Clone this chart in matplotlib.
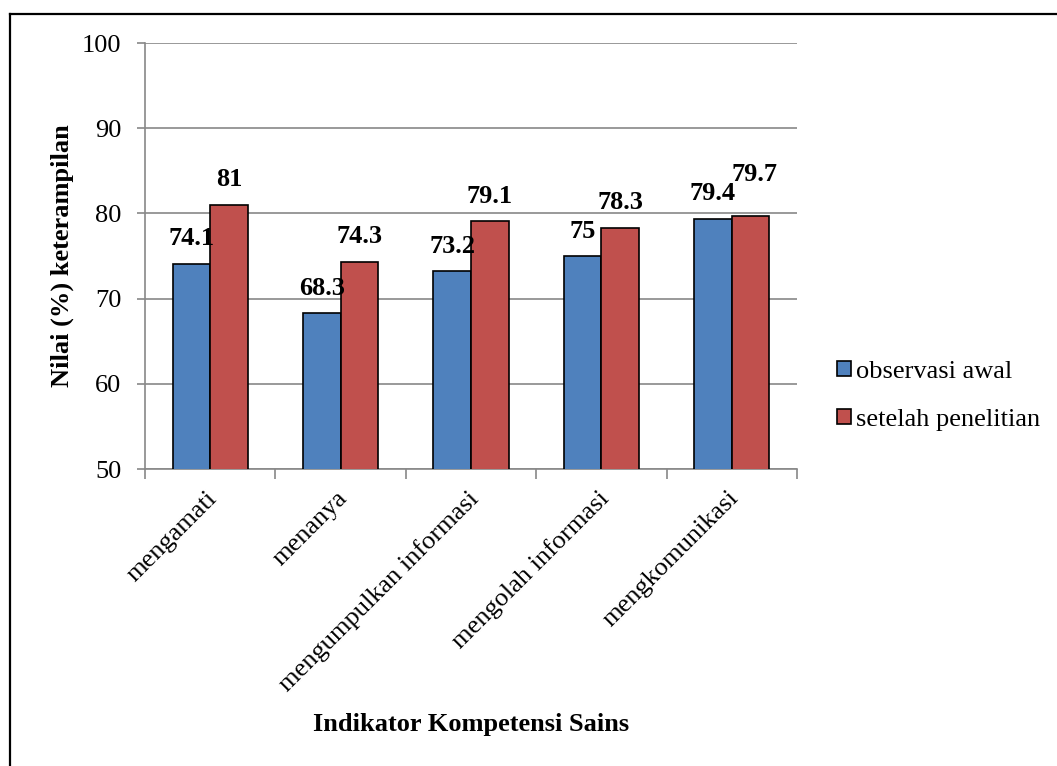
import matplotlib
matplotlib.use("Agg")
import matplotlib.pyplot as plt
from matplotlib.lines import Line2D
from matplotlib.patches import Patch
from matplotlib.transforms import ScaledTranslation
import numpy as np

plt.rcParams['font.family'] = ['Liberation Serif', 'DejaVu Serif']

categories = ["mengamati", "menanya", "mengumpulkan informasi",
              "mengolah informasi", "mengkomunikasi"]
observasi_awal = [74.1, 68.3, 73.2, 75, 79.4]
setelah_penelitian = [81, 74.3, 79.1, 78.3, 79.7]
series_names = ["observasi awal", "setelah penelitian"]
y_ticks = [50, 60, 70, 80, 90, 100]

blue = "#4F81BD"
red = "#C0504D"
grid_gray = "#888888"

W, H = 1057, 766
fig = plt.figure(figsize=(W / 100, H / 100), dpi=100)
ax = fig.add_axes([145 / W, 1 - 469 / H, (797 - 145) / W, (469 - 43) / H])

x = np.arange(len(categories))
bw = 0.288
b1 = ax.bar(x - bw / 2, observasi_awal, bw, color=blue, edgecolor="black",
            linewidth=1.2, zorder=3)
b2 = ax.bar(x + bw / 2, setelah_penelitian, bw, color=red, edgecolor="black",
            linewidth=1.2, zorder=3)

ax.set_ylim(50, 100)
ax.set_xlim(-0.5, len(categories) - 0.5)
ax.set_yticks(y_ticks)
ax.set_yticklabels([str(v) for v in y_ticks], fontsize=19)
ax.yaxis.grid(True, color=grid_gray, linewidth=1.2, zorder=0)
ax.set_axisbelow(True)

# category labels at centres, tick marks at category boundaries
ax.set_xticks(x)
ax.set_xticklabels(categories, rotation=45, ha="right", va="top",
                   rotation_mode="anchor", fontsize=19)
ax.tick_params(axis="x", length=0, pad=13)
shift = ScaledTranslation(-4 / 100, 0, fig.dpi_scale_trans)
for lbl in ax.get_xticklabels():
    lbl.set_transform(lbl.get_transform() + shift)
ax.set_xticks(np.arange(-0.5, len(categories), 1.0), minor=True)
ax.tick_params(axis="x", which="minor", length=7, color=grid_gray, width=1.2)
ax.tick_params(axis="y", length=6, color=grid_gray, width=1.2, pad=11)

for s in ["top", "right"]:
    ax.spines[s].set_visible(False)
for s in ["left", "bottom"]:
    ax.spines[s].set_color(grid_gray)
    ax.spines[s].set_linewidth(1.2)

fig.text(62 / W, 1 - 256 / H, "Nilai (%) keterampilan", fontsize=19,
         fontweight="bold", rotation=90, ha="center", va="center")
fig.text(471 / W, 1 - 725 / H, "Indikator Kompetensi Sains", fontsize=19,
         fontweight="bold", ha="center", va="center")

# value labels above the bars
extra = {(1, 4): (3, 12)}
for si, (bars, vals) in enumerate([(b1, observasi_awal), (b2, setelah_penelitian)]):
    for ci, (rect, v) in enumerate(zip(bars, vals)):
        dx, dy = extra.get((si, ci), (0, 0))
        ax.annotate(f"{v:g}", (rect.get_x() + rect.get_width() / 2, v),
                    xytext=(dx, 18 + dy), textcoords="offset points",
                    ha="center", va="center", fontsize=19, fontweight="bold")

handles = [Patch(facecolor=blue, edgecolor="black", linewidth=1.2),
           Patch(facecolor=red, edgecolor="black", linewidth=1.2)]
fig.legend(handles, series_names, loc="center left",
           bbox_to_anchor=(837 / W, 1 - 396 / H), frameon=False, fontsize=19,
           handlelength=0.53, handleheight=0.53, handletextpad=0.2,
           labelspacing=0.98, borderaxespad=0, borderpad=0)

# outer frame (left and top edges)
fig.add_artist(Line2D([10 / W, 10 / W], [0, 1 - 14 / H], transform=fig.transFigure,
                      color="black", linewidth=1.6))
fig.add_artist(Line2D([10 / W, 1], [1 - 14 / H, 1 - 14 / H], transform=fig.transFigure,
                      color="black", linewidth=1.6))

fig.savefig("out.png", dpi=100)
